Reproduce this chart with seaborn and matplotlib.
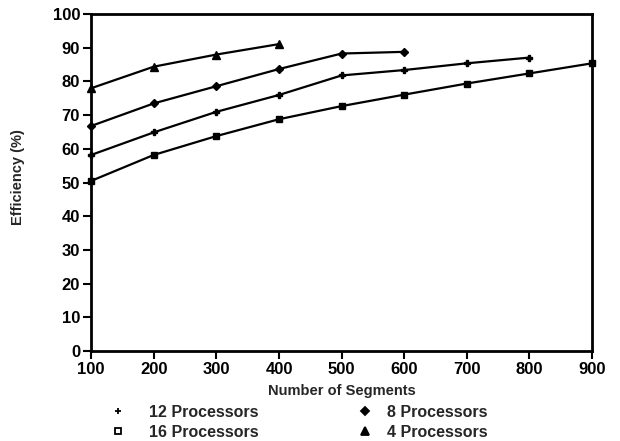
import pandas as pd
import matplotlib.pyplot as plt
import seaborn as sns
from matplotlib.lines import Line2D

# data
segs_4 = [100, 200, 300, 400]
eff_4 = [78.0, 84.4, 88.0, 91.1]
segs_8 = [100, 200, 300, 400, 500, 600]
eff_8 = [66.8, 73.5, 78.6, 83.7, 88.3, 88.8]
segs_12 = [100, 200, 300, 400, 500, 600, 700, 800]
eff_12 = [58.2, 64.9, 71.0, 76.0, 81.8, 83.4, 85.4, 87.1]
segs_16 = [100, 200, 300, 400, 500, 600, 700, 800, 900]
eff_16 = [50.5, 58.2, 63.8, 68.8, 72.7, 76.1, 79.4, 82.4, 85.4]

sns.set_style('ticks')
plt.rcParams['font.family'] = ['Liberation Sans', 'DejaVu Sans']
plt.rcParams['font.weight'] = 'bold'

fig = plt.figure(figsize=(6.2, 4.41), dpi=100)
ax = fig.add_axes([0.147, 0.204, 0.808, 0.764])

series = [
    (segs_12, eff_12, 'P', 5, '12 Processors'),
    (segs_16, eff_16, 's', 5, '16 Processors'),
    (segs_8, eff_8, 'D', 4.5, '8 Processors'),
    (segs_4, eff_4, '^', 6, '4 Processors'),
]
for x, y, m, ms, name in series:
    df = pd.DataFrame({'seg': x, 'eff': y})
    sns.lineplot(data=df, x='seg', y='eff', ax=ax, color='black', marker=m,
                 markersize=ms, markeredgecolor='black', markerfacecolor='black',
                 markeredgewidth=1, linewidth=1.6, clip_on=False)

ax.set_xlim(100, 900)
ax.set_ylim(0, 100)
ax.set_xticks(range(100, 901, 100))
ax.set_yticks(range(0, 101, 10))
for s in ax.spines.values():
    s.set_linewidth(2)
    s.set_color('black')
ax.tick_params(direction='out', length=6, width=1.5, labelsize=12, colors='black', pad=2)
for lab in ax.get_xticklabels() + ax.get_yticklabels():
    lab.set_fontweight('bold')
ax.set_xlabel('Number of Segments', fontsize=10.5, fontweight='bold')
ax.xaxis.set_label_coords(0.5, -0.097)
ax.set_ylabel('Efficiency (%)', fontsize=10.5, fontweight='bold')
ax.yaxis.set_label_coords(-0.132, 0.5175)

leg_markers = ['+', 's', 'D', '^']
handles = [Line2D([], [], color='black', marker=lm, linestyle='none',
                  markersize=ms, markeredgewidth=1.3, label=name)
           for lm, (_, _, _, ms, name) in zip(leg_markers, series)]
handles[1].set_markerfacecolor('white')
handles[1].set_markersize(4.5)

common = dict(loc='upper left', frameon=False, borderpad=0, borderaxespad=0,
              handlelength=1.0, labelspacing=0.3, prop={'weight': 'bold', 'size': 11.5})
leg1 = fig.legend(handles=handles[:2], bbox_to_anchor=(0.178, 0.082),
                  handletextpad=1.45, **common)
leg2 = fig.legend(handles=handles[2:], bbox_to_anchor=(0.576, 0.082),
                  handletextpad=0.85, **common)

fig.savefig('out.png', dpi=100)
